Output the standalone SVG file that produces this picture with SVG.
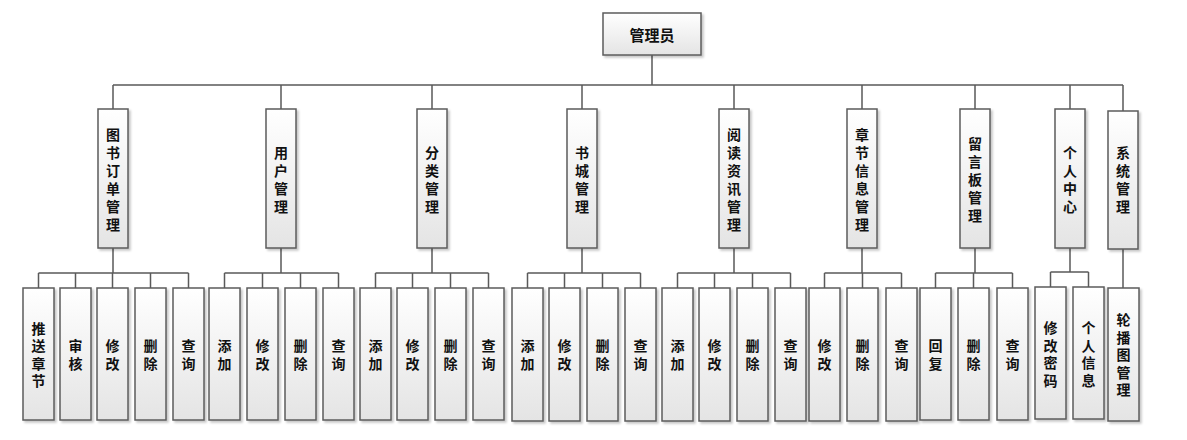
<svg xmlns="http://www.w3.org/2000/svg" width="1187" height="440" viewBox="0 0 1187 440">
<style>
.b{fill:url(#g);stroke:#5c5c5c;stroke-width:1.5;filter:url(#s)}
.t{font-family:"Noto Sans CJK SC","Noto Sans CJK TC",sans-serif;font-size:14px;font-weight:bold;fill:#111;text-anchor:middle;dominant-baseline:central}
.c{fill:none;stroke:#5a5a5a;stroke-width:1.5}
</style>
<defs>
<linearGradient id="g" x1="0" y1="0" x2="0" y2="1"><stop offset="0" stop-color="#ffffff"/><stop offset="1" stop-color="#e4e4e4"/></linearGradient>
<filter id="s" x="-20%" y="-10%" width="150%" height="120%"><feDropShadow dx="2" dy="2" stdDeviation="0.8" flood-color="#000" flood-opacity="0.22"/></filter>
</defs>
<rect width="1187" height="440" fill="#fff"/>
<g id="connectors" class="c">
<path d="M652 55V85M113 85H1123M113 85V109M281 85V109M432 85V109M582 85V109M734 85V109M862 85V109M975 85V109M1070 85V109M1123 85V111"/>
<path d="M113 248V273M38.5 273H188.5M38.5 273V288M75.5 273V288M112.5 273V288M150.5 273V288M188.5 273V288"/>
<path d="M281 248V273M224.5 273H338.5M224.5 273V288M262.5 273V288M300.5 273V288M338.5 273V288"/>
<path d="M432 248V273M375.5 273H488.5M375.5 273V288M412.5 273V288M450.5 273V288M488.5 273V288"/>
<path d="M582 248V273M527.5 273H640.5M527.5 273V288M564.5 273V288M602.5 273V288M640.5 273V288"/>
<path d="M734 248V273M677.5 273H790.5M677.5 273V288M714.5 273V288M752.5 273V288M790.5 273V288"/>
<path d="M862 248V273M824.5 273H901.5M824.5 273V288M862.5 273V288M901.5 273V288"/>
<path d="M975 248V273M935.5 273H1012.5M935.5 273V288M973.5 273V288M1012.5 273V288"/>
<path d="M1070 248V272M1050.5 272H1088.5M1050.5 272V287M1088.5 272V287"/>
<path d="M1123 249V288"/>
</g>
<g id="root"><rect class="b" x="603" y="13" width="98" height="42"/><text class="t" x="652" y="34" style="font-size:15px">管理员</text></g>

<g id="m1"><rect class="b" x="98" y="109" width="30" height="139"/><text class="t"><tspan x="113" y="133.5">图</tspan><tspan x="113" y="151.5">书</tspan><tspan x="113" y="169.5">订</tspan><tspan x="113" y="187.5">单</tspan><tspan x="113" y="205.5">管</tspan><tspan x="113" y="223.5">理</tspan></text></g>
<g id="m2"><rect class="b" x="266" y="109" width="30" height="139"/><text class="t"><tspan x="281" y="151.5">用</tspan><tspan x="281" y="169.5">户</tspan><tspan x="281" y="187.5">管</tspan><tspan x="281" y="205.5">理</tspan></text></g>
<g id="m3"><rect class="b" x="417" y="109" width="30" height="139"/><text class="t"><tspan x="432" y="151.5">分</tspan><tspan x="432" y="169.5">类</tspan><tspan x="432" y="187.5">管</tspan><tspan x="432" y="205.5">理</tspan></text></g>
<g id="m4"><rect class="b" x="567" y="109" width="30" height="139"/><text class="t"><tspan x="582" y="151.5">书</tspan><tspan x="582" y="169.5">城</tspan><tspan x="582" y="187.5">管</tspan><tspan x="582" y="205.5">理</tspan></text></g>
<g id="m5"><rect class="b" x="719" y="109" width="30" height="139"/><text class="t"><tspan x="734" y="133.5">阅</tspan><tspan x="734" y="151.5">读</tspan><tspan x="734" y="169.5">资</tspan><tspan x="734" y="187.5">讯</tspan><tspan x="734" y="205.5">管</tspan><tspan x="734" y="223.5">理</tspan></text></g>
<g id="m6"><rect class="b" x="847" y="109" width="30" height="139"/><text class="t"><tspan x="862" y="133.5">章</tspan><tspan x="862" y="151.5">节</tspan><tspan x="862" y="169.5">信</tspan><tspan x="862" y="187.5">息</tspan><tspan x="862" y="205.5">管</tspan><tspan x="862" y="223.5">理</tspan></text></g>
<g id="m7"><rect class="b" x="960" y="109" width="30" height="139"/><text class="t"><tspan x="975" y="142.5">留</tspan><tspan x="975" y="160.5">言</tspan><tspan x="975" y="178.5">板</tspan><tspan x="975" y="196.5">管</tspan><tspan x="975" y="214.5">理</tspan></text></g>
<g id="m8"><rect class="b" x="1055" y="109" width="30" height="139"/><text class="t"><tspan x="1070" y="151.5">个</tspan><tspan x="1070" y="169.5">人</tspan><tspan x="1070" y="187.5">中</tspan><tspan x="1070" y="205.5">心</tspan></text></g>
<g id="m9"><rect class="b" x="1108" y="111" width="30" height="138"/><text class="t"><tspan x="1123" y="152">系</tspan><tspan x="1123" y="170">统</tspan><tspan x="1123" y="188">管</tspan><tspan x="1123" y="206">理</tspan></text></g>

<g id="l1a"><rect class="b" x="23" y="288" width="31" height="132"/><text class="t"><tspan x="38.5" y="327.75">推</tspan><tspan x="38.5" y="345.25">送</tspan><tspan x="38.5" y="362.75">章</tspan><tspan x="38.5" y="380.25">节</tspan></text></g>
<g id="l1b"><rect class="b" x="60" y="288" width="31" height="132"/><text class="t"><tspan x="75.5" y="345.25">审</tspan><tspan x="75.5" y="362.75">核</tspan></text></g>
<g id="l1c"><rect class="b" x="97" y="288" width="31" height="132"/><text class="t"><tspan x="112.5" y="345.25">修</tspan><tspan x="112.5" y="362.75">改</tspan></text></g>
<g id="l1d"><rect class="b" x="135" y="288" width="31" height="132"/><text class="t"><tspan x="150.5" y="345.25">删</tspan><tspan x="150.5" y="362.75">除</tspan></text></g>
<g id="l1e"><rect class="b" x="173" y="288" width="31" height="132"/><text class="t"><tspan x="188.5" y="345.25">查</tspan><tspan x="188.5" y="362.75">询</tspan></text></g>

<g id="l2a"><rect class="b" x="209" y="288" width="31" height="132"/><text class="t"><tspan x="224.5" y="345.25">添</tspan><tspan x="224.5" y="362.75">加</tspan></text></g>
<g id="l2b"><rect class="b" x="247" y="288" width="31" height="132"/><text class="t"><tspan x="262.5" y="345.25">修</tspan><tspan x="262.5" y="362.75">改</tspan></text></g>
<g id="l2c"><rect class="b" x="285" y="288" width="31" height="132"/><text class="t"><tspan x="300.5" y="345.25">删</tspan><tspan x="300.5" y="362.75">除</tspan></text></g>
<g id="l2d"><rect class="b" x="323" y="288" width="31" height="132"/><text class="t"><tspan x="338.5" y="345.25">查</tspan><tspan x="338.5" y="362.75">询</tspan></text></g>

<g id="l3a"><rect class="b" x="360" y="288" width="31" height="132"/><text class="t"><tspan x="375.5" y="345.25">添</tspan><tspan x="375.5" y="362.75">加</tspan></text></g>
<g id="l3b"><rect class="b" x="397" y="288" width="31" height="132"/><text class="t"><tspan x="412.5" y="345.25">修</tspan><tspan x="412.5" y="362.75">改</tspan></text></g>
<g id="l3c"><rect class="b" x="435" y="288" width="31" height="132"/><text class="t"><tspan x="450.5" y="345.25">删</tspan><tspan x="450.5" y="362.75">除</tspan></text></g>
<g id="l3d"><rect class="b" x="473" y="288" width="31" height="132"/><text class="t"><tspan x="488.5" y="345.25">查</tspan><tspan x="488.5" y="362.75">询</tspan></text></g>

<g id="l4a"><rect class="b" x="512" y="288" width="31" height="133"/><text class="t"><tspan x="527.5" y="345.25">添</tspan><tspan x="527.5" y="362.75">加</tspan></text></g>
<g id="l4b"><rect class="b" x="549" y="288" width="31" height="133"/><text class="t"><tspan x="564.5" y="345.25">修</tspan><tspan x="564.5" y="362.75">改</tspan></text></g>
<g id="l4c"><rect class="b" x="587" y="288" width="31" height="133"/><text class="t"><tspan x="602.5" y="345.25">删</tspan><tspan x="602.5" y="362.75">除</tspan></text></g>
<g id="l4d"><rect class="b" x="625" y="288" width="31" height="133"/><text class="t"><tspan x="640.5" y="345.25">查</tspan><tspan x="640.5" y="362.75">询</tspan></text></g>

<g id="l5a"><rect class="b" x="662" y="288" width="31" height="133"/><text class="t"><tspan x="677.5" y="345.25">添</tspan><tspan x="677.5" y="362.75">加</tspan></text></g>
<g id="l5b"><rect class="b" x="699" y="288" width="31" height="133"/><text class="t"><tspan x="714.5" y="345.25">修</tspan><tspan x="714.5" y="362.75">改</tspan></text></g>
<g id="l5c"><rect class="b" x="737" y="288" width="31" height="133"/><text class="t"><tspan x="752.5" y="345.25">删</tspan><tspan x="752.5" y="362.75">除</tspan></text></g>
<g id="l5d"><rect class="b" x="775" y="288" width="31" height="133"/><text class="t"><tspan x="790.5" y="345.25">查</tspan><tspan x="790.5" y="362.75">询</tspan></text></g>

<g id="l6a"><rect class="b" x="809" y="288" width="31" height="133"/><text class="t"><tspan x="824.5" y="345.25">修</tspan><tspan x="824.5" y="362.75">改</tspan></text></g>
<g id="l6b"><rect class="b" x="847" y="288" width="31" height="133"/><text class="t"><tspan x="862.5" y="345.25">删</tspan><tspan x="862.5" y="362.75">除</tspan></text></g>
<g id="l6c"><rect class="b" x="886" y="288" width="31" height="133"/><text class="t"><tspan x="901.5" y="345.25">查</tspan><tspan x="901.5" y="362.75">询</tspan></text></g>

<g id="l7a"><rect class="b" x="920" y="288" width="31" height="132"/><text class="t"><tspan x="935.5" y="345.25">回</tspan><tspan x="935.5" y="362.75">复</tspan></text></g>
<g id="l7b"><rect class="b" x="958" y="288" width="31" height="132"/><text class="t"><tspan x="973.5" y="345.25">删</tspan><tspan x="973.5" y="362.75">除</tspan></text></g>
<g id="l7c"><rect class="b" x="997" y="288" width="31" height="132"/><text class="t"><tspan x="1012.5" y="345.25">查</tspan><tspan x="1012.5" y="362.75">询</tspan></text></g>

<g id="l8a"><rect class="b" x="1035" y="287" width="31" height="132"/><text class="t"><tspan x="1050.5" y="327">修</tspan><tspan x="1050.5" y="344.5">改</tspan><tspan x="1050.5" y="362">密</tspan><tspan x="1050.5" y="379.5">码</tspan></text></g>
<g id="l8b"><rect class="b" x="1073" y="287" width="31" height="132"/><text class="t"><tspan x="1088.5" y="327">个</tspan><tspan x="1088.5" y="344.5">人</tspan><tspan x="1088.5" y="362">信</tspan><tspan x="1088.5" y="379.5">息</tspan></text></g>

<g id="l9a"><rect class="b" x="1108" y="288" width="31" height="133"/><text class="t"><tspan x="1123.5" y="319">轮</tspan><tspan x="1123.5" y="336.5">播</tspan><tspan x="1123.5" y="354">图</tspan><tspan x="1123.5" y="371.5">管</tspan><tspan x="1123.5" y="389">理</tspan></text></g>
</svg>
